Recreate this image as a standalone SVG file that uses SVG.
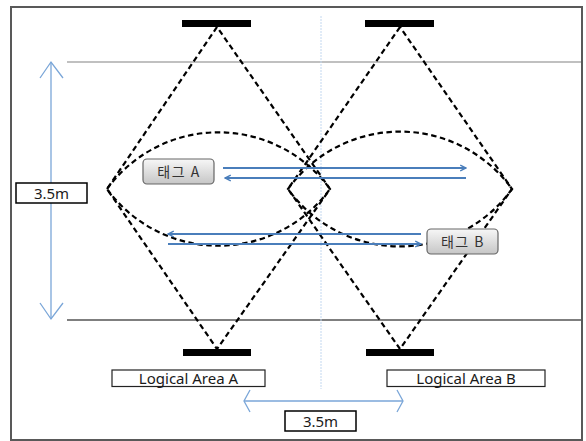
<svg xmlns="http://www.w3.org/2000/svg" width="586" height="441" viewBox="0 0 586 441">
  <style>
    .frame { fill: #ffffff; stroke: #595959; stroke-width: 2; }
    .reader { fill: #000000; }
    .field { fill: none; stroke: #000000; stroke-width: 2.2; stroke-dasharray: 5.5 3.5; }
    .dim { fill: none; stroke: #7aa6d8; stroke-width: 1.3; }
    .sig { fill: none; stroke: #4a7ebb; stroke-width: 1.8; }
    .label { fill: #ffffff; stroke: #000000; stroke-width: 1.5; }
    .txt { font-family: "Noto Sans", "Noto Sans CJK KR", sans-serif; font-size: 15px; fill: #1a1a1a; text-anchor: middle; }
    .tag { fill: url(#tagFill); stroke: #666666; stroke-width: 1.2; }
    .tagtxt { font-family: "Noto Sans CJK KR", "Noto Sans", sans-serif; font-size: 14px; fill: #333333; text-anchor: middle; letter-spacing: 1.5px; }
  </style>
  <defs>
    <linearGradient id="tagFill" x1="0" y1="0" x2="0" y2="1">
      <stop offset="0" stop-color="#f7f7f7"/>
      <stop offset="1" stop-color="#c6c6c6"/>
    </linearGradient>
    <marker id="head" viewBox="0 0 10 10" refX="9" refY="5" markerWidth="4" markerHeight="4" orient="auto" markerUnits="strokeWidth">
      <path d="M1,1 L9,5 L1,9" fill="none" stroke="#4a7ebb" stroke-width="2"/>
    </marker>
  </defs>

  <!-- outer frame -->
  <rect class="frame" x="11" y="7" width="571" height="433"/>

  <!-- reference lines -->
  <g id="guides">
    <line x1="67" y1="62" x2="581" y2="62" stroke="#ababab" stroke-width="1.5"/>
    <line x1="67" y1="320" x2="581" y2="320" stroke="#555555" stroke-width="1.5"/>
    <line x1="321" y1="16" x2="321" y2="389" stroke="#c3d8f0" stroke-width="1" stroke-dasharray="2 1"/>
  </g>

  <!-- readers -->
  <g id="reader-top-a"><rect class="reader" x="182" y="20" width="69" height="7"/></g>
  <g id="reader-top-b"><rect class="reader" x="365" y="20" width="69" height="7"/></g>
  <g id="reader-bottom-a"><rect class="reader" x="183" y="349" width="68" height="7"/></g>
  <g id="reader-bottom-b"><rect class="reader" x="366" y="349" width="68" height="7"/></g>

  <!-- read fields -->
  <g id="connectors">
    <path class="field" d="M217,27 L107,189 L217,349 L330,189 Z"/>
    <path class="field" d="M400,27 L288,189 L400,349 L512,189 Z"/>
    <path class="field" d="M107,189 A138,138 0 0 1 330,189 A138,138 0 0 1 107,189 Z"/>
    <path class="field" d="M288,189 A138,138 0 0 1 512,189 A138,138 0 0 1 288,189 Z"/>

    <!-- tag signals -->
    <line class="sig" x1="223" y1="168" x2="466" y2="168" marker-end="url(#head)"/>
    <line class="sig" x1="466" y1="178" x2="225" y2="178" marker-end="url(#head)"/>
    <line class="sig" x1="421" y1="234" x2="168" y2="234" marker-end="url(#head)"/>
    <line class="sig" x1="168" y1="244" x2="421" y2="244" marker-end="url(#head)"/>

    <!-- dimension arrows -->
    <line class="dim" x1="51" y1="62" x2="51" y2="319"/>
    <path class="dim" d="M40,78 L51,62 L63,78"/>
    <path class="dim" d="M40,303 L51,319 L63,303"/>
    <line class="dim" x1="244" y1="401" x2="403" y2="401"/>
    <path class="dim" d="M250,390 L244,401 L250,412"/>
    <path class="dim" d="M397,390 L403,401 L397,412"/>
  </g>

  <!-- dimension labels -->
  <g id="dim-vertical">
    <rect class="label" x="16" y="183" width="71" height="20"/>
    <text class="txt" x="51.5" y="198.5">3.5m</text>
  </g>
  <g id="dim-horizontal">
    <rect class="label" x="285" y="411" width="71" height="20"/>
    <text class="txt" x="320.5" y="426.5">3.5m</text>
  </g>

  <!-- area labels -->
  <g id="area-a">
    <rect x="112" y="370" width="153" height="16.5" fill="#ffffff" stroke="#222222" stroke-width="1.2"/>
    <text class="txt" x="188.5" y="384">Logical Area A</text>
  </g>
  <g id="area-b">
    <rect x="387" y="370" width="158" height="16.5" fill="#ffffff" stroke="#222222" stroke-width="1.2"/>
    <text class="txt" x="466" y="384">Logical Area B</text>
  </g>

  <!-- tags -->
  <g id="tag-a">
    <rect class="tag" x="143" y="159" width="71" height="25" rx="4"/>
    <text class="tagtxt" x="179" y="177">태그 A</text>
  </g>
  <g id="tag-b">
    <rect class="tag" x="427" y="229" width="71" height="25" rx="4"/>
    <text class="tagtxt" x="463" y="247">태그 B</text>
  </g>
</svg>
